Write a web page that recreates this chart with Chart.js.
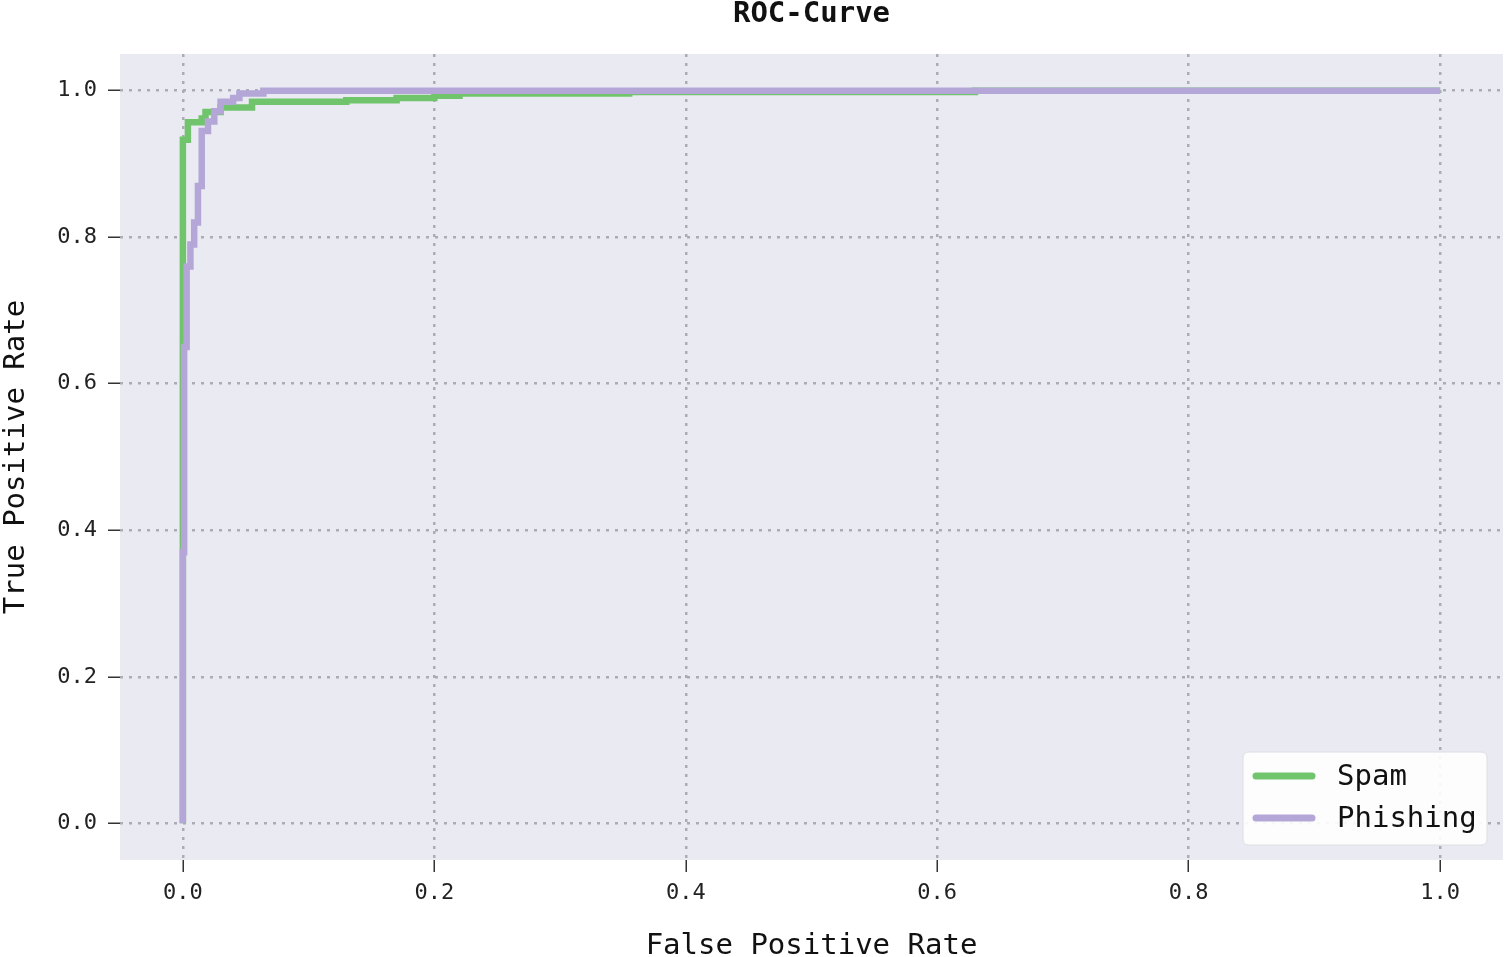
<!DOCTYPE html>
<html>
<head>
<meta charset="utf-8">
<script src="https://cdn.jsdelivr.net/npm/chart.js@4.4.1/dist/chart.umd.min.js"></script>
<style>
  html, body { margin: 0; padding: 0; background: #ffffff; }
  #c { display: block; }
</style>
</head>
<body>
<canvas id="c" width="1505" height="957"></canvas>
<script>
// ---- Data ----
const seriesNames = ["Spam", "Phishing"];

const spamFpr = [0, 0, 0.004, 0.004, 0.015, 0.015, 0.018, 0.018, 0.030, 0.030, 0.055, 0.055, 0.130, 0.130, 0.170, 0.170, 0.200, 0.200, 0.220, 0.220, 0.355, 0.355, 0.630, 0.630, 1.0];
const spamTpr = [0, 0.933, 0.933, 0.957, 0.957, 0.962, 0.962, 0.971, 0.971, 0.977, 0.977, 0.985, 0.985, 0.987, 0.987, 0.990, 0.990, 0.993, 0.993, 0.996, 0.996, 0.998, 0.998, 1.0, 1.0];

const phishFpr = [0, 0, 0.001, 0.001, 0.003, 0.003, 0.006, 0.006, 0.009, 0.009, 0.012, 0.012, 0.015, 0.015, 0.020, 0.020, 0.025, 0.025, 0.030, 0.030, 0.040, 0.040, 0.045, 0.045, 0.064, 0.064, 1.0];
const phishTpr = [0, 0.37, 0.37, 0.65, 0.65, 0.76, 0.76, 0.79, 0.79, 0.82, 0.82, 0.87, 0.87, 0.945, 0.945, 0.958, 0.958, 0.972, 0.972, 0.985, 0.985, 0.990, 0.990, 0.996, 0.996, 1.0, 1.0];

const xTicks = [0.0, 0.2, 0.4, 0.6, 0.8, 1.0];
const yTicks = [0.0, 0.2, 0.4, 0.6, 0.8, 1.0];

// ---- Styles ----
const MONO = "'DejaVu Sans Mono', 'Liberation Mono', monospace";
const GREEN = "#70c46c";
const PURPLE = "#b4a7d7";

function toPoints(xs, ys) { return xs.map((x, i) => ({ x: x, y: ys[i] })); }

const plotBg = {
  id: 'plotBg',
  beforeDraw(chart) {
    const a = chart.chartArea, ctx = chart.ctx;
    ctx.save();
    ctx.fillStyle = '#eaeaf2';
    ctx.fillRect(a.left, a.top, a.right - a.left, a.bottom - a.top);
    ctx.restore();
  }
};

const boxLegend = {
  id: 'boxLegend',
  afterDraw(chart) {
    const a = chart.chartArea, ctx = chart.ctx;
    const w = 244, h = 93;
    const x = a.right - 16 - w, y = a.bottom - 15 - h;
    ctx.save();
    const r = 6;
    ctx.beginPath();
    ctx.moveTo(x + r, y);
    ctx.lineTo(x + w - r, y); ctx.quadraticCurveTo(x + w, y, x + w, y + r);
    ctx.lineTo(x + w, y + h - r); ctx.quadraticCurveTo(x + w, y + h, x + w - r, y + h);
    ctx.lineTo(x + r, y + h); ctx.quadraticCurveTo(x, y + h, x, y + h - r);
    ctx.lineTo(x, y + r); ctx.quadraticCurveTo(x, y, x + r, y);
    ctx.closePath();
    ctx.fillStyle = 'rgba(255,255,255,0.9)';
    ctx.fill();
    ctx.strokeStyle = '#dedee4';
    ctx.lineWidth = 1;
    ctx.stroke();
    const rows = [y + 24, y + 66];
    chart.data.datasets.forEach((ds, i) => {
      const yy = rows[i];
      ctx.beginPath();
      ctx.lineCap = 'round';
      ctx.lineWidth = 7;
      ctx.strokeStyle = ds.borderColor;
      ctx.moveTo(x + 13, yy);
      ctx.lineTo(x + 69, yy);
      ctx.stroke();
      ctx.fillStyle = '#111111';
      ctx.font = "29px " + MONO;
      ctx.textBaseline = 'middle';
      ctx.textAlign = 'left';
      ctx.fillText(ds.label, x + 94, yy + 1);
    });
    ctx.restore();
  }
};

const gridOpts = {
  color: '#acacb4',
  lineWidth: 2.5,
  drawTicks: true,
  tickLength: 12,
  tickColor: '#333333',
  tickWidth: 1.5,
  tickBorderDash: [1, 0]
};

new Chart(document.getElementById('c'), {
  type: 'line',
  data: {
    datasets: [
      {
        label: seriesNames[0],
        data: toPoints(spamFpr, spamTpr),
        borderColor: GREEN,
        backgroundColor: GREEN,
        borderWidth: 6.5,
        pointRadius: 0,
        tension: 0,
        fill: false,
        order: 1,
        borderJoinStyle: 'miter'
      },
      {
        label: seriesNames[1],
        data: toPoints(phishFpr, phishTpr),
        borderColor: PURPLE,
        backgroundColor: PURPLE,
        borderWidth: 6.5,
        pointRadius: 0,
        tension: 0,
        fill: false,
        order: 0,
        borderJoinStyle: 'miter'
      }
    ]
  },
  options: {
    responsive: false,
    animation: false,
    layout: { padding: { left: 0, right: 2, top: 0, bottom: 0 } },
    plugins: {
      legend: { display: false },
      tooltip: { enabled: false },
      title: {
        display: true,
        fullSize: false,
        text: 'ROC-Curve',
        color: '#111111',
        font: { family: MONO, size: 29, weight: 'bold', lineHeight: 1 },
        padding: { top: 0, bottom: 25 }
      }
    },
    scales: {
      x: {
        type: 'linear',
        min: -0.05,
        max: 1.05,
        afterBuildTicks(scale) { scale.ticks = xTicks.map(v => ({ value: v })); },
        afterFit(scale) { scale.height = 97; },
        border: { display: false, dash: [3, 6] },
        grid: gridOpts,
        ticks: {
          color: '#222222',
          font: { family: MONO, size: 22 },
          padding: 8,
          maxRotation: 0,
          callback: (v) => Number(v).toFixed(1)
        },
        title: {
          display: true,
          text: 'False Positive Rate',
          color: '#111111',
          font: { family: MONO, size: 29, lineHeight: 0.76 },
          padding: { top: 0, bottom: 0 }
        }
      },
      y: {
        type: 'linear',
        min: -0.05,
        max: 1.05,
        afterBuildTicks(scale) { scale.ticks = yTicks.map(v => ({ value: v })); },
        afterFit(scale) { scale.width = 120; },
        border: { display: false, dash: [3, 6] },
        grid: gridOpts,
        ticks: {
          color: '#222222',
          font: { family: MONO, size: 22 },
          padding: 11,
          callback: (v) => Number(v).toFixed(1)
        },
        title: {
          display: true,
          text: 'True Positive Rate',
          color: '#111111',
          font: { family: MONO, size: 29, lineHeight: 1 },
          padding: { top: 2, bottom: 0 }
        }
      }
    }
  },
  plugins: [plotBg, boxLegend]
});
</script>
</body>
</html>
